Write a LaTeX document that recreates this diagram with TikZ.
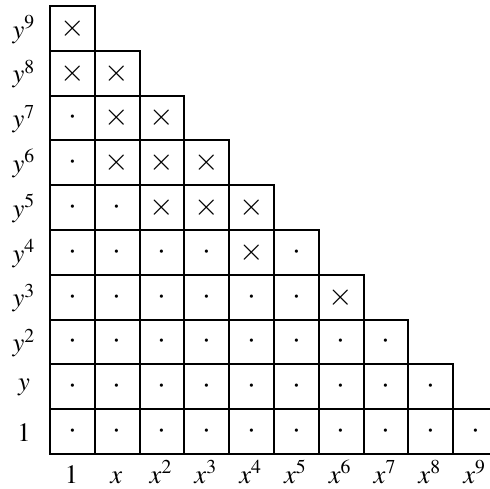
\documentclass[tikz,border=0pt]{standalone}
\usepackage{mathptmx}
\begin{document}
\begin{tikzpicture}[x=0.8cm,y=0.8cm,line width=1pt,
  cell/.style={draw,minimum size=0.8cm,inner sep=0pt,anchor=south west,
    font=\fontsize{16}{18}\selectfont},
  lab/.style={font=\fontsize{13.5}{15}\selectfont}]
  \useasboundingbox (-1.094,-0.759) rectangle (9.844,10.156);
  % casillas con cruz
  \foreach \i/\j in {0/9,0/8,1/8,1/7,2/7,1/6,2/6,3/6,2/5,3/5,4/5,4/4,6/3}
    \expandafter\gdef\csname mk\i-\j\endcsname{};
  % escalera de casillas
  \foreach \j in {0,...,9}{
    \pgfmathtruncatemacro\imax{9-\j}
    \foreach \i in {0,...,\imax}
      \node[cell] (c-\i-\j) at (\i,\j)
        {\ifcsname mk\i-\j\endcsname$\times$\else$\cdot$\fi};
  }
  % etiquetas
  \foreach \j/\t in {0/1,1/y,2/y^2,3/y^3,4/y^4,5/y^5,6/y^6,7/y^7,8/y^8,9/y^9}
    \node[lab] (ly-\j) at (-0.56,\j+0.5) {$\t$};
  \foreach \i/\t in {0/1,1/x,2/x^2,3/x^3,4/x^4,5/x^5,6/x^6,7/x^7,8/x^8,9/x^9}
    \node[lab,anchor=base,inner ysep=1pt] (lx-\i) at (\i+0.5,-0.64) {$\t$};
\end{tikzpicture}
\end{document}
